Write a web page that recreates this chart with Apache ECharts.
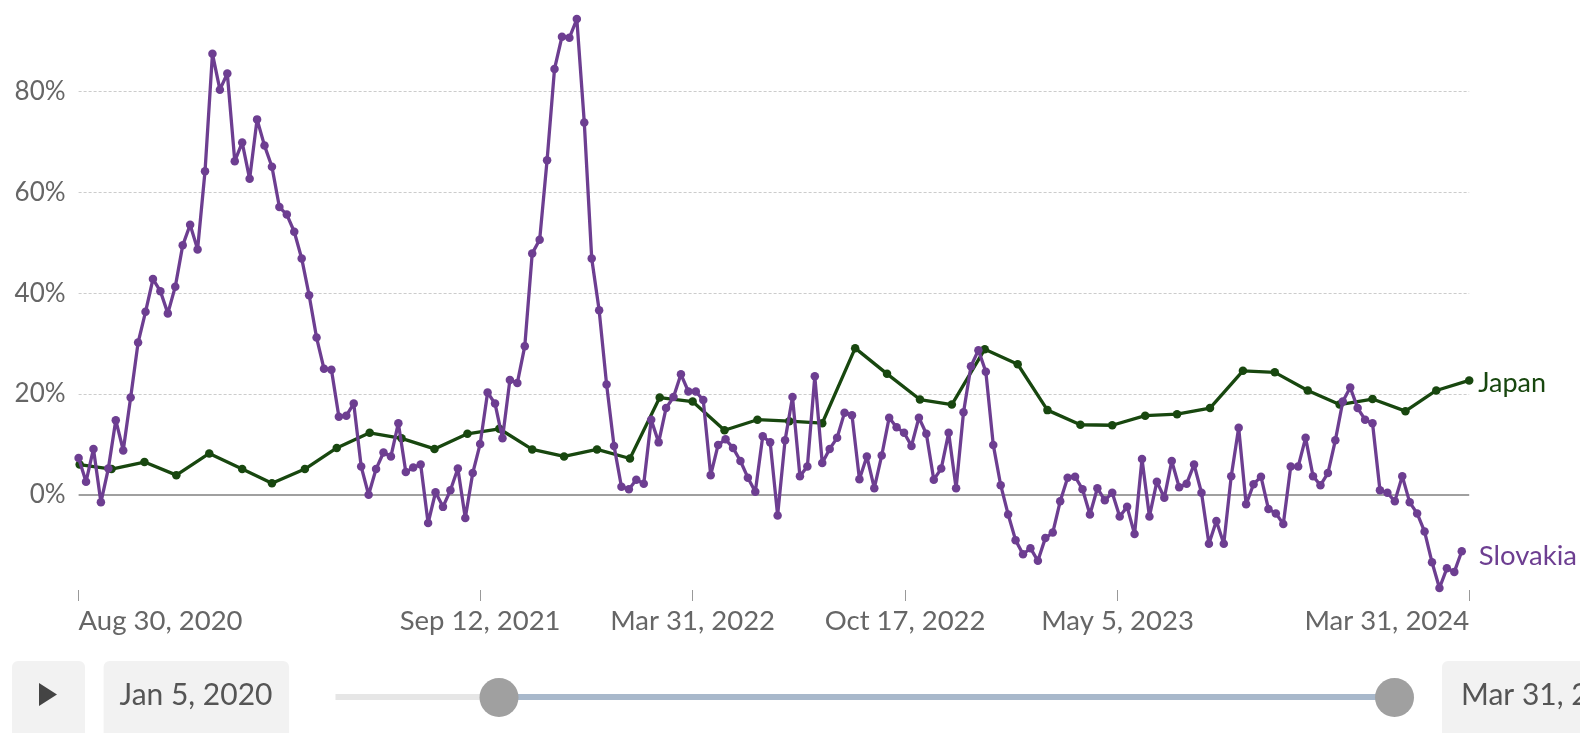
<!DOCTYPE html>
<html>
<head>
<meta charset="utf-8">
<script src="https://cdn.jsdelivr.net/npm/echarts@6/dist/echarts.min.js"></script>
<style>
html,body{margin:0;padding:0;background:#fff;overflow:hidden;}
#chart{width:1580px;height:733px;}
</style>
</head>
<body>
<div id="chart"></div>
<script>
// ---- data ----
const SERIES_NAMES = ['Japan', 'Slovakia'];
const X_TICKS = ['2020-08-30', '2021-09-12', '2022-03-31', '2022-10-17', '2023-05-05', '2024-03-31'];
const Y_TICKS = [0, 20, 40, 60, 80];
const X_RANGE = ['2020-08-30', '2024-03-31'];

// Slovakia: weekly values (%), first week ending 2020-08-30
const SLOVAKIA_START = '2020-08-30';
const SLOVAKIA = [
  7.3, 2.6, 9.1, -1.5, 5.2, 14.8, 8.8, 19.3, 30.2, 36.3,
  42.8, 40.4, 36.0, 41.3, 49.5, 53.6, 48.7, 64.2, 87.5, 80.4,
  83.6, 66.2, 69.9, 62.7, 74.5, 69.3, 65.1, 57.1, 55.6, 52.2,
  46.9, 39.6, 31.2, 25.0, 24.8, 15.5, 15.7, 18.1, 5.6, 0.0,
  5.1, 8.4, 7.6, 14.2, 4.5, 5.4, 6.0, -5.6, 0.5, -2.4,
  0.9, 5.2, -4.6, 4.3, 10.1, 20.3, 18.1, 11.2, 22.8, 22.2,
  29.5, 47.9, 50.6, 66.4, 84.5, 90.9, 90.7, 94.4, 73.9, 46.9,
  36.6, 21.9, 9.7, 1.6, 1.1, 3.0, 2.2, 14.9, 10.4, 17.2,
  19.4, 23.9, 20.5, 20.5, 18.8, 3.9, 9.9, 11.0, 9.3, 6.7,
  3.4, 0.6, 11.6, 10.4, -4.1, 10.8, 19.4, 3.7, 5.6, 23.5,
  6.3, 9.1, 11.3, 16.3, 15.8, 3.1, 7.6, 1.3, 7.8, 15.3,
  13.4, 12.3, 9.7, 15.3, 12.1, 3.0, 5.2, 12.3, 1.3, 16.4,
  25.5, 28.7, 24.4, 9.9, 1.9, -3.9, -9.0, -11.8, -10.6, -13.1,
  -8.6, -7.5, -1.3, 3.4, 3.6, 1.1, -3.9, 1.3, -1.1, 0.4,
  -4.3, -2.4, -7.8, 7.1, -4.3, 2.6, -0.6, 6.7, 1.5, 2.2,
  6.0, 0.4, -9.7, -5.2, -9.7, 3.7, 13.3, -1.9, 2.1, 3.6,
  -2.8, -3.7, -5.8, 5.6, 5.6, 11.3, 3.7, 1.9, 4.3, 10.8,
  18.5, 21.3, 17.2, 14.9, 14.2, 0.9, 0.4, -1.3, 3.7, -1.5,
  -3.7, -7.3, -13.4, -18.5, -14.6, -15.3, -11.2
];

// Japan: monthly values (%), month ends from Aug 2020 to Mar 2024
const JAPAN_START = [2020, 7];
const JAPAN = [
  6.0, 5.1, 6.5, 3.9, 8.2, 5.1, 2.3, 5.1, 9.3, 12.3,
  11.2, 9.1, 12.1, 13.1, 9.0, 7.6, 9.0, 7.2, 19.3, 18.5,
  12.8, 14.9, 14.6, 14.2, 29.1, 24.0, 18.9, 17.9, 28.9, 25.9,
  16.8, 13.9, 13.8, 15.7, 16.0, 17.2, 24.6, 24.3, 20.7, 17.9,
  19.0, 16.6, 20.7, 22.7
];

// ---- build ----
const DAY = 86400000;
const MONTHS = ['Jan','Feb','Mar','Apr','May','Jun','Jul','Aug','Sep','Oct','Nov','Dec'];
function fmtDate(v) {
  const d = new Date(v);
  return MONTHS[d.getUTCMonth()] + ' ' + d.getUTCDate() + ', ' + d.getUTCFullYear();
}
const t0 = Date.parse(SLOVAKIA_START);
const slovakiaData = SLOVAKIA.map((v, i) => [t0 + i * 7 * DAY, v]);
const japanData = JAPAN.map((v, k) => [Date.UTC(JAPAN_START[0], JAPAN_START[1] + k + 1, 0), v]);
const xTickVals = X_TICKS.map(s => Date.parse(s));
const allVals = SLOVAKIA.concat(JAPAN);
const yMin = Math.min.apply(null, allVals);
const yMax = Math.max.apply(null, allVals);

const FONT = 'Lato';
const C_JAPAN = '#18470F';
const C_SLOVAKIA = '#6D3E91';

const chart = echarts.init(document.getElementById('chart'), null, {renderer: 'canvas'});
chart.setOption({
  animation: false,
  textStyle: {fontFamily: FONT},
  grid: {left: 78.6, top: 19.1, width: 1390.6, height: 568.9, containLabel: false, outerBoundsMode: 'none'},
  xAxis: {
    type: 'value',
    min: Date.parse(X_RANGE[0]),
    max: Date.parse(X_RANGE[1]),
    offset: 2,
    axisLine: {show: false, onZero: false},
    splitLine: {show: false},
    axisTick: {show: true, customValues: xTickVals, length: 11, lineStyle: {color: '#999', width: 1}},
    axisLabel: {
      customValues: xTickVals,
      formatter: fmtDate,
      fontFamily: FONT, fontSize: 27.5, color: '#666',
      margin: 17,
      alignMinLabel: 'left', alignMaxLabel: 'right'
    }
  },
  yAxis: {
    type: 'value',
    min: yMin, max: yMax,
    axisLine: {show: false},
    axisTick: {show: false},
    splitLine: {show: false},
    axisLabel: {
      customValues: Y_TICKS,
      formatter: v => v + '%',
      fontFamily: FONT, fontSize: 26, color: '#666', margin: 13
    }
  },
  series: [
    {
      name: SERIES_NAMES[0], type: 'line', data: japanData, z: 3,
      symbol: 'circle', symbolSize: 8.5, showSymbol: true, showAllSymbol: true,
      lineStyle: {color: C_JAPAN, width: 3.3}, itemStyle: {color: C_JAPAN},
      endLabel: {show: true, formatter: '{a}', color: C_JAPAN, fontFamily: FONT, fontSize: 27, distance: 9, offset: [0, 3]},
      markLine: {
        silent: true, symbol: 'none', z: 1, label: {show: false},
        data: Y_TICKS.map(v => ({
          yAxis: v,
          lineStyle: v === 0 ? {color: '#a0a0a0', width: 2, type: 'solid'} : {color: '#cccccc', width: 1.2, type: [3, 2]}
        }))
      }
    },
    {
      name: SERIES_NAMES[1], type: 'line', data: slovakiaData, z: 4,
      symbol: 'circle', symbolSize: 8.5, showSymbol: true, showAllSymbol: true,
      lineStyle: {color: C_SLOVAKIA, width: 3.3}, itemStyle: {color: C_SLOVAKIA},
      endLabel: {show: true, formatter: '{a}', color: C_SLOVAKIA, fontFamily: FONT, fontSize: 27.5, distance: 17, offset: [0, 5]}
    }
  ],
  graphic: [
    {type: 'rect', shape: {x: 12, y: 661, width: 73, height: 90, r: 6}, style: {fill: '#f2f2f2'}, silent: true},
    {type: 'polygon', shape: {points: [[39, 683], [57, 694.5], [39, 706]]}, style: {fill: '#444'}, silent: true},
    {type: 'rect', shape: {x: 103.6, y: 661, width: 185.5, height: 90, r: 6}, style: {fill: '#f2f2f2'}, silent: true},
    {type: 'text', x: 196, y: 695, style: {text: 'Jan 5, 2020', fontFamily: FONT, fontSize: 30, fill: '#555', align: 'center', verticalAlign: 'middle'}, silent: true},
    {type: 'rect', shape: {x: 335.5, y: 694, width: 165, height: 6}, style: {fill: '#e6e6e6'}, silent: true},
    {type: 'rect', shape: {x: 499, y: 694, width: 895, height: 6}, style: {fill: '#a8b8cb'}, silent: true},
    {type: 'circle', shape: {cx: 499, cy: 697.5, r: 19.5}, style: {fill: '#a0a0a0'}, silent: true},
    {type: 'circle', shape: {cx: 1394.5, cy: 697.5, r: 19.5}, style: {fill: '#a0a0a0'}, silent: true},
    {type: 'rect', shape: {x: 1442, y: 661, width: 200, height: 90, r: 6}, style: {fill: '#f2f2f2'}, silent: true},
    {type: 'text', x: 1461, y: 695, style: {text: 'Mar 31, 2024', fontFamily: FONT, fontSize: 30, fill: '#555', align: 'left', verticalAlign: 'middle'}, silent: true}
  ]
});
</script>
</body>
</html>
